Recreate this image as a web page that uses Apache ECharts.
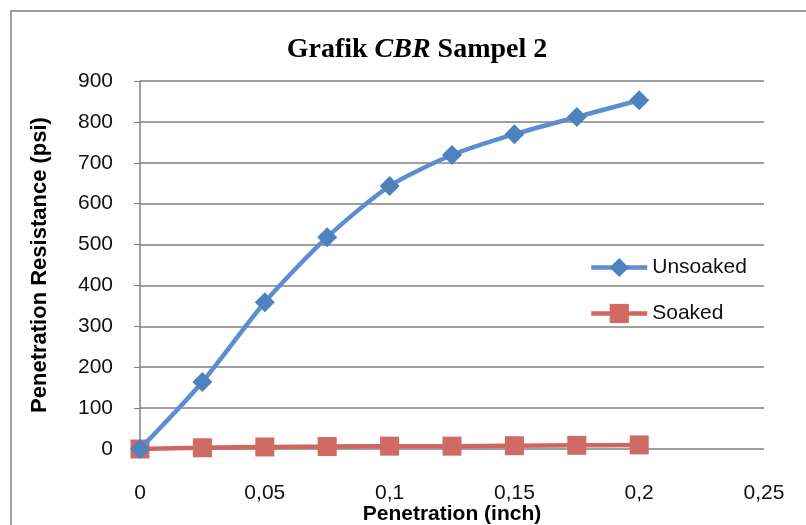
<!DOCTYPE html>
<html>
<head>
<meta charset="utf-8">
<script src="https://cdn.jsdelivr.net/npm/echarts@6/dist/echarts.min.js"></script>
<style>
  html, body { margin: 0; padding: 0; background: #fff; overflow: hidden; }
  #chart { width: 806px; height: 525px; }
</style>
</head>
<body>
<div id="chart"></div>
<script>
// Penetration depth (inch)
const penetration = [0, 0.025, 0.05, 0.075, 0.1, 0.125, 0.15, 0.175, 0.2];
// Penetration resistance (psi)
const unsoaked = [0, 164, 359, 518, 643, 719, 770, 812, 853];
const soaked = [0, 3, 5, 6, 7, 7, 8, 9, 10];

const seriesNames = ['Unsoaked', 'Soaked'];

const labelFont = 'Liberation Sans, sans-serif';

const chart = echarts.init(document.getElementById('chart'));

const pairs = (xs, ys) => xs.map((x, i) => [x, ys[i]]);

chart.setOption({
  animation: false,
  title: {
    text: '{a|Grafik }{b|CBR}{a| Sampel 2}',
    left: 412,
    top: 31,
    textAlign: 'center',
    textStyle: {
      rich: {
        a: { fontFamily: 'Liberation Serif', fontWeight: 'bold', fontSize: 28, color: '#000' },
        b: { fontFamily: 'Liberation Serif', fontWeight: 'bold', fontStyle: 'italic', fontSize: 28, color: '#000' }
      }
    }
  },
  graphic: [{
    type: 'rect',
    shape: { x: 11, y: 11, width: 820, height: 540 },
    style: { fill: 'none', stroke: '#7f7f7f', lineWidth: 1.5 },
    silent: true,
    z: -1
  }],
  grid: { left: 140, right: 42, top: 81, bottom: 76, containLabel: false, outerBoundsMode: 'none' },
  legend: {
    orient: 'vertical',
    left: 584,
    top: 252,
    itemGap: 25,
    itemWidth: 56,
    itemHeight: 24,
    data: seriesNames,
    lineStyle: { width: 4.5 },
    textStyle: { fontFamily: labelFont, fontSize: 21, color: '#111' }
  },
  xAxis: {
    type: 'value',
    min: 0,
    max: 0.25,
    interval: 0.05,
    name: 'Penetration (inch)',
    nameLocation: 'middle',
    nameGap: 55,
    nameMoveOverlap: false,
    nameTextStyle: { fontFamily: labelFont, fontWeight: 'bold', fontSize: 21, color: '#000' },
    axisLine: { show: false },
    axisTick: { show: false },
    splitLine: { show: false },
    axisLabel: {
      margin: 34,
      fontFamily: labelFont,
      fontSize: 21,
      color: '#111',
      formatter: v => String(+v.toFixed(2)).replace('.', ',')
    }
  },
  yAxis: {
    type: 'value',
    min: 0,
    max: 900,
    interval: 100,
    name: 'Penetration Resistance (psi)',
    nameLocation: 'middle',
    nameGap: 89,
    nameMoveOverlap: false,
    nameTextStyle: { fontFamily: labelFont, fontWeight: 'bold', fontSize: 22, color: '#000' },
    axisLine: { show: true, lineStyle: { color: '#808080', width: 1.5 } },
    axisTick: { show: true, length: 6, inside: false, lineStyle: { color: '#808080' } },
    splitLine: { show: true, lineStyle: { color: '#808080', width: 1.5 } },
    axisLabel: { margin: 27, fontFamily: labelFont, fontSize: 21, color: '#111' }
  },
  series: [
    {
      name: seriesNames[0],
      type: 'line',
      data: pairs(penetration, unsoaked),
      smooth: 0.25,
      symbol: 'diamond',
      symbolSize: 20,
      lineStyle: { color: '#5b8fd0', width: 4.5 },
      itemStyle: { color: '#4f81bd' },
      z: 3
    },
    {
      name: seriesNames[1],
      type: 'line',
      data: pairs(penetration, soaked),
      smooth: 0.25,
      symbol: 'rect',
      symbolSize: 19,
      lineStyle: { color: '#cf6660', width: 4.5 },
      itemStyle: { color: '#d06a64' },
      z: 2
    }
  ]
});
</script>
</body>
</html>
